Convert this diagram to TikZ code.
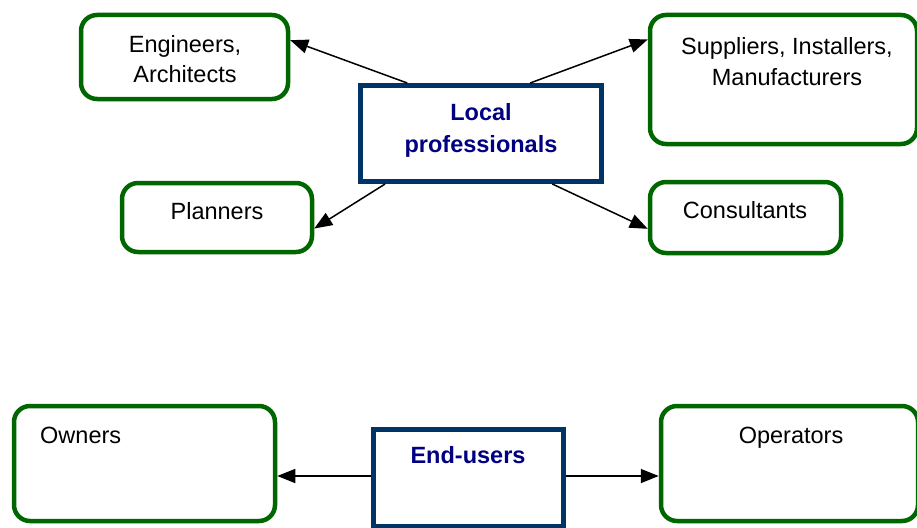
\documentclass[tikz,border=0pt]{standalone}
\usepackage{fontspec}
\setmainfont{Liberation Sans}
\usetikzlibrary{arrows.meta,calc}
\definecolor{boxgreen}{RGB}{0,102,0}
\definecolor{boxblue}{RGB}{0,51,102}
\definecolor{textblue}{RGB}{0,0,128}
\begin{document}
\begin{tikzpicture}[x=1pt,y=-1pt,
  gbox/.style={draw=boxgreen,line width=4.5pt,rounded corners=16pt,inner sep=0pt},
  bbox/.style={draw=boxblue,line width=5pt,inner sep=0pt},
  lbl/.style={font=\fontsize{23.5}{30.5}\selectfont,align=center,inner sep=0pt,anchor=base},
  blbl/.style={font=\fontsize{23.5}{32.5}\selectfont\bfseries,text=textblue,align=center,inner sep=0pt,anchor=base},
  arr/.style={-{Triangle[length=18pt,width=14pt]},line width=1.5pt}]
\useasboundingbox (0,0) rectangle (917,527);
\clip (0,0) rectangle (917,527);
% boxes
\node[gbox,minimum width=207pt,minimum height=84pt] (eng) at (184.5,57) {};
\node[gbox,minimum width=190pt,minimum height=69pt] (plan) at (217,217.5) {};
\node[gbox,minimum width=267pt,minimum height=129pt] (sup) at (783.5,79.5) {};
\node[gbox,minimum width=191pt,minimum height=71pt] (cons) at (745.5,217.5) {};
\node[gbox,minimum width=261pt,minimum height=115pt] (own) at (144.5,463.5) {};
\node[gbox,minimum width=257pt,minimum height=115pt] (oper) at (789.5,463.5) {};
\node[bbox,minimum width=241pt,minimum height=96pt] (local) at (481,133.5) {};
\node[bbox,minimum width=190pt,minimum height=97pt] (end) at (468.5,478) {};
% labels (base = baseline of the last line)
\node[lbl] (engt) at (185,82.8) {Engineers,\\Architects};
\node[lbl] (plant) at (217,219.3) {Planners};
\node[lbl] (supt) at (787,85) {Suppliers, Installers,\\Manufacturers};
\node[lbl] (const) at (745,218.3) {Consultants};
\node[lbl,anchor=base west] (ownt) at (40,443) {Owners};
\node[lbl] (opert) at (791,443) {Operators};
\node[blbl] (localt) at (481,152.5) {Local\\professionals};
\node[blbl] (endt) at (468,463) {End-users};
% connectors
\draw[arr] ($(local.north west)!0.2!(local.north east)$) -- ($(eng.north east)!0.31!(eng.south east)$);
\draw[arr] ($(local.north west)!0.7!(local.north east)$) -- ($(sup.north west)!0.2!(sup.south west)$);
\draw[arr] ($(local.south west)!0.11!(local.south east)$) -- ($(plan.north east)!0.65!(plan.south east)$);
\draw[arr] ($(local.south west)!0.79!(local.south east)$) -- ($(cons.north west)!0.65!(cons.south west)$);
\draw[arr] ($(end.west)+(0,-2)$) -- ($(own.east)+(0,12.5)$);
\draw[arr] ($(end.east)+(0,-2)$) -- ($(oper.west)+(0,12.5)$);
\end{tikzpicture}
\end{document}
